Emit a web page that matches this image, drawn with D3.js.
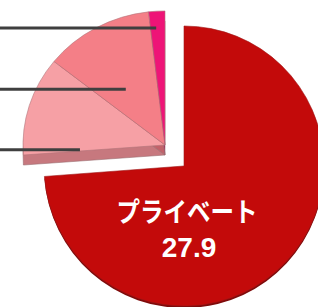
<!DOCTYPE html>
<html>
<head>
<meta charset="utf-8">
<script src="https://cdn.jsdelivr.net/npm/d3@7"></script>
<style>
  html, body { margin: 0; padding: 0; background: #fff; }
  svg { display: block; }
</style>
</head>
<body>
<div id="chart"></div>
<script>
// --- Data ---
const categories = ['プライベート', 'その他A', 'その他B', 'その他C'];
const values = [27.9, 4.5, 4.7, 0.7];
const valueLabels = ['27.9', '', '', ''];

const colors = ['#c30a0a', '#f6a0a5', '#f47f87', '#ee1477'];
const sideColors = ['#7e0a0a', '#c7787e', '#c2626a', '#a80d55'];

const width = 318, height = 307;

const svg = d3.select('#chart')
  .append('svg')
  .attr('width', width)
  .attr('height', height);

const pie = d3.pie().sort(null).value(d => d);
const arcs = pie(values);

// --- Main slice (not exploded) ---
const r = 140;
const mainArc = d3.arc().innerRadius(0).outerRadius(r);
const main = svg.append('g').attr('transform', 'translate(184,166)');

// thin rim under the big slice
main.append('path')
  .attr('d', mainArc(arcs[0]))
  .attr('transform', 'translate(0,2)')
  .attr('fill', sideColors[0]);

main.append('path')
  .attr('d', mainArc(arcs[0]))
  .attr('fill', colors[0])
  .attr('stroke', '#a01818')
  .attr('stroke-width', 0.6);

// --- Exploded group (the small slices) ---
const rest = arcs.slice(1);
const depth = 10;
const ry = 0.944;
const rx = 142;
const restArc = d3.arc().innerRadius(0).outerRadius(rx);
const grp = svg.append('g').attr('transform', 'translate(165,145)');

// side walls: same slices pushed down
grp.selectAll('.side')
  .data(rest)
  .enter().append('path')
  .attr('class', 'side')
  .attr('transform', `translate(0,${depth}) scale(1,${ry})`)
  .attr('d', restArc)
  .attr('fill', (d, i) => sideColors[i + 1])
  .attr('stroke', '#9a6a6e')
  .attr('stroke-width', 0.6);

grp.selectAll('.face')
  .data(rest)
  .enter().append('path')
  .attr('class', 'face')
  .attr('transform', `scale(1,${ry})`)
  .attr('d', restArc)
  .attr('fill', (d, i) => colors[i + 1])
  .attr('stroke', '#b07478')
  .attr('stroke-width', 0.6);

// --- Leader lines (labels sit off to the left, outside the crop) ---
const anchors = [ { t: 0.02, k: 0.6 }, { t: 0.4, k: 0.5 }, { t: 0.39, k: 0.875 } ];
rest.forEach((d, i) => {
  const a = d.startAngle + (d.endAngle - d.startAngle) * anchors[i].t;
  const px = 165 + Math.sin(a) * rx * anchors[i].k;
  const py = 145 - Math.cos(a) * rx * anchors[i].k * ry;
  svg.append('line')
    .attr('x1', 0).attr('x2', px)
    .attr('y1', py).attr('y2', py)
    .attr('stroke', '#3f3f3f')
    .attr('stroke-width', 3);
});

// --- Label on the big slice ---
main.append('text')
  .attr('x', 3).attr('y', 56)
  .attr('text-anchor', 'middle')
  .attr('fill', '#fff')
  .attr('textLength', 141)
  .attr('lengthAdjust', 'spacingAndGlyphs')
  .style('font-family', '"Noto Sans CJK JP", sans-serif')
  .style('font-weight', 'bold')
  .style('font-size', '27px')
  .text(categories[0]);

main.append('text')
  .attr('x', 5).attr('y', 91)
  .attr('text-anchor', 'middle')
  .attr('fill', '#fff')
  .style('font-family', '"Liberation Sans", Arial, sans-serif')
  .style('font-weight', 'bold')
  .style('font-size', '28px')
  .text(valueLabels[0]);
</script>
</body>
</html>
